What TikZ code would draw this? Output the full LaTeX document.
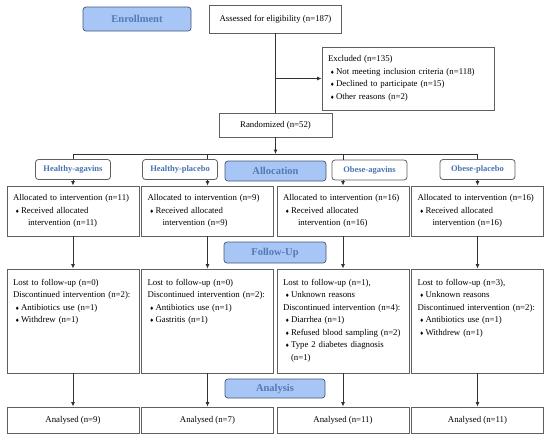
\documentclass[tikz,border=0pt]{standalone}
\usepackage{xcolor}
\usepackage{fontspec}
\setmainfont{Liberation Serif}
\newfontfamily\dejavu{DejaVu Sans}
\usepackage{tikz}
\usetikzlibrary{arrows.meta, positioning}
\definecolor{hdrblue}{RGB}{168,198,245}
\definecolor{hdredge}{RGB}{70,85,120}
\definecolor{hdrtext}{RGB}{82,122,180}
\definecolor{grptext}{RGB}{72,116,176}
\definecolor{boxedge}{RGB}{95,95,95}
\definecolor{linedark}{RGB}{50,50,50}
\newcommand{\dmd}{{\dejavu\fontsize{5}{5}\selectfont\char"2666}}
\newcommand{\itm}{\hspace*{2pt}\makebox[6pt][l]{\dmd}}
\tikzset{
  box/.style={rectangle, draw=boxedge, fill=white, line width=0.9pt,
    font=\fontsize{8.8}{12.5}\selectfont, inner sep=0pt},
  infobox/.style={box, align=left, text width=#1, inner xsep=6pt},
  hdr/.style={rectangle, rounded corners=3pt, draw=hdredge, fill=hdrblue,
    line width=0.7pt, font=\fontsize{10.5}{12}\selectfont\bfseries,
    text=hdrtext, inner sep=0pt},
  grp/.style={rectangle, rounded corners=3pt, draw=boxedge, fill=white,
    line width=0.8pt, font=\fontsize{8.5}{10}\selectfont\bfseries,
    text=grptext, minimum width=75pt, minimum height=20pt, inner sep=0pt},
  arrow/.style={-{Latex[length=4.5pt,width=4pt]}, line width=0.8pt, color=linedark},
  line/.style={line width=0.8pt, color=linedark}
}

\begin{document}
\begin{tikzpicture}[x=1pt,y=-1pt]
  \fill[white] (0,0) rectangle (550,442);
  \useasboundingbox (0,0) rectangle (550,442);

  % enrollment
  \node[hdr, minimum width=108pt, minimum height=24pt] (enrol) at (137,19) {Enrollment};
  \node[box, minimum width=132pt, minimum height=28pt] (assess) at (275.5,19) {Assessed for eligibility (n=187)};
  \node[infobox=160pt, minimum height=63pt] (excl) at (408,78.5)
    {Excluded (n=135)\\ \itm Not meeting inclusion criteria (n=118)\\
     \itm Declined to participate (n=15)\\ \itm Other reasons (n=2)};
  \node[box, minimum width=113pt, minimum height=24pt] (rand) at (275.5,125) {Randomized (n=52)};
  \coordinate (hub) at (275.5,154);

  % allocation
  \node[hdr, minimum width=101pt, minimum height=20pt] (alloc) at (275.5,171) {Allocation};
  \node[grp] (hag) at (73,169.5) {Healthy-agavins};
  \node[grp] (hpl) at (180,169.5) {Healthy-placebo};
  \node[grp] (oag) at (369.5,170) {Obese-agavins};
  \node[grp] (opl) at (477.5,169.5) {Obese-placebo};

  \node[infobox=120pt, minimum height=50pt] (al1) at (73,211)
    {Allocated to intervention (n=11)\\ \itm Received allocated\\ \hspace*{15pt}intervention (n=11)};
  \node[infobox=120pt, minimum height=50pt] (al2) at (207.5,211)
    {Allocated to intervention (n=9)\\ \itm Received allocated\\ \hspace*{15pt}intervention (n=9)};
  \node[infobox=120pt, minimum height=50pt] (al3) at (343,211)
    {Allocated to intervention (n=16)\\ \itm Received allocated\\ \hspace*{15pt}intervention (n=16)};
  \node[infobox=120pt, minimum height=50pt] (al4) at (477.5,211)
    {Allocated to intervention (n=16)\\ \itm Received allocated\\ \hspace*{15pt}intervention (n=16)};

  % follow-up
  \node[hdr, minimum width=102pt, minimum height=21pt] (follow) at (275,252.5) {Follow-Up};
  \node[infobox=120pt, text height=9pt, text depth=81pt, inner ysep=7pt] (fu1) at (73,321)
    {Lost to follow-up (n=0)\\ Discontinued intervention (n=2):\\
     \itm Antibiotics use (n=1)\\ \itm Withdrew (n=1)};
  \node[infobox=120pt, text height=9pt, text depth=81pt, inner ysep=7pt] (fu2) at (207.5,321)
    {Lost to follow-up (n=0)\\ Discontinued intervention (n=2):\\
     \itm Antibiotics use (n=1)\\ \itm Gastritis (n=1)};
  \node[infobox=120pt, text height=9pt, text depth=81pt, inner ysep=7pt] (fu3) at (343,321)
    {Lost to follow-up (n=1),\\ \itm Unknown reasons\\ Discontinued intervention (n=4):\\
     \itm Diarrhea (n=1)\\ \itm Refused blood sampling (n=2)\\
     \itm Type 2 diabetes diagnosis\\ \hspace*{8pt}(n=1)};
  \node[infobox=120pt, text height=9pt, text depth=81pt, inner ysep=7pt] (fu4) at (477.5,321)
    {Lost to follow-up (n=3),\\ \itm Unknown reasons\\ Discontinued intervention (n=2):\\
     \itm Antibiotics use (n=1)\\ \itm Withdrew (n=1)};

  % analysis
  \node[hdr, minimum width=100pt, minimum height=19pt] (analys) at (275,388.5) {Analysis};
  \node[box, minimum width=132pt, minimum height=26pt] (an1) at (73,420) {Analysed (n=9)};
  \node[box, minimum width=132pt, minimum height=26pt] (an2) at (207.5,420) {Analysed (n=7)};
  \node[box, minimum width=132pt, minimum height=26pt] (an3) at (343,420) {Analysed (n=11)};
  \node[box, minimum width=132pt, minimum height=26pt] (an4) at (477.5,420) {Analysed (n=11)};

  % connectors
  \draw[line] (assess) -- (rand);
  \draw[arrow] (rand.north |- excl.west) -- (excl.west);
  \draw[arrow] (rand.south) -- (hub);
  \draw[line] (al1.north |- hub) -- (al4.north |- hub);
  \draw[line] (al1.north |- hub) -- (al1.north |- hag.north);
  \draw[line] (al2.north |- hub) -- (al2.north |- hpl.north);
  \draw[line] (al3.north |- hub) -- (al3.north |- oag.north);
  \draw[line] (al4.north |- hub) -- (al4.north |- opl.north);
  \draw[arrow] (al1.north |- hag.south) -- (al1.north);
  \draw[arrow] (al2.north |- hpl.south) -- (al2.north);
  \draw[arrow] (al3.north |- oag.south) -- (al3.north);
  \draw[arrow] (al4.north |- opl.south) -- (al4.north);
  \draw[arrow] (al1) -- (fu1);
  \draw[arrow] (al2) -- (fu2);
  \draw[arrow] (al3) -- (fu3);
  \draw[arrow] (al4) -- (fu4);
  \draw[arrow] (fu1) -- (an1);
  \draw[arrow] (fu2) -- (an2);
  \draw[arrow] (fu3) -- (an3);
  \draw[arrow] (fu4) -- (an4);
\end{tikzpicture}
\end{document}
